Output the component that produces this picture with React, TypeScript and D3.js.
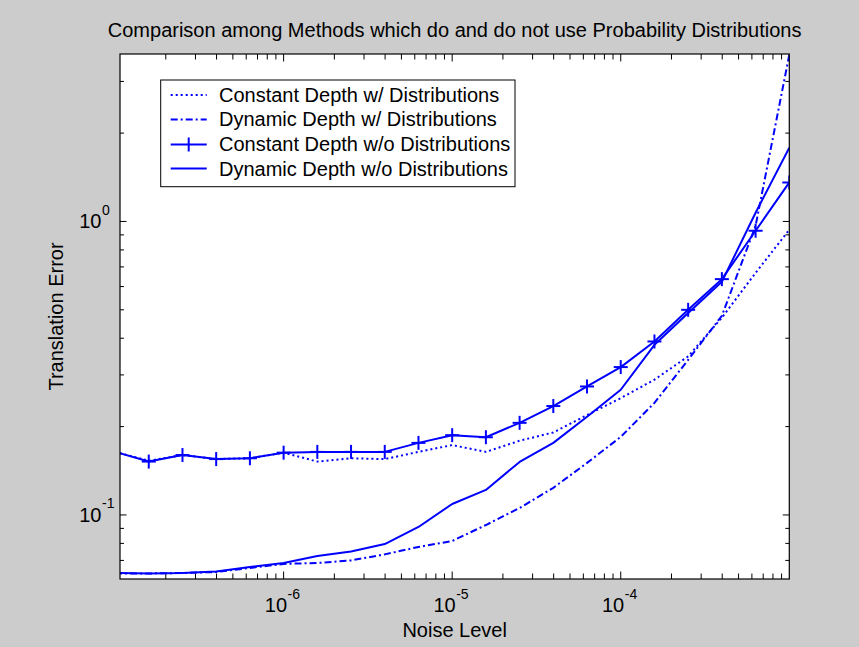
import React from "react";
import * as d3 from "d3";

const TITLE = "Comparison among Methods which do and do not use Probability Distributions";
const X_LABEL = "Noise Level";
const Y_LABEL = "Translation Error";

const NOISE = [
  1e-7, 1.585e-7, 2.512e-7, 3.981e-7, 6.31e-7,
  1e-6, 1.585e-6, 2.512e-6, 3.981e-6, 6.31e-6,
  1e-5, 1.585e-5, 2.512e-5, 3.981e-5, 6.31e-5,
  1e-4, 1.585e-4, 2.512e-4, 3.981e-4, 6.31e-4,
  1e-3,
];

const CONST_WITH_DIST = [0.164, 0.153, 0.160, 0.155, 0.156, 0.163, 0.152, 0.156, 0.155, 0.164, 0.173, 0.164, 0.179, 0.191, 0.219, 0.250, 0.289, 0.347, 0.470, 0.668, 0.937];
const DYN_WITH_DIST = [0.0632, 0.0632, 0.0634, 0.0639, 0.0660, 0.0681, 0.0686, 0.0700, 0.0734, 0.0778, 0.0815, 0.0924, 0.1056, 0.1237, 0.1504, 0.1845, 0.2409, 0.3377, 0.477, 0.967, 3.70];
const CONST_WITHOUT = [0.164, 0.152, 0.160, 0.155, 0.156, 0.163, 0.164, 0.164, 0.164, 0.176, 0.187, 0.184, 0.206, 0.235, 0.274, 0.319, 0.390, 0.500, 0.636, 0.930, 1.358];
const DYN_WITHOUT = [0.0634, 0.0632, 0.0634, 0.0642, 0.0665, 0.0686, 0.0725, 0.0751, 0.0796, 0.0910, 0.109, 0.1217, 0.1516, 0.176, 0.216, 0.267, 0.380, 0.488, 0.623, 1.071, 1.784];

const SERIES_NAMES = [
  "Constant Depth w/ Distributions",
  "Dynamic Depth w/ Distributions",
  "Constant Depth w/o Distributions",
  "Dynamic Depth w/o Distributions",
];

const X_MAJOR = [1e-6, 1e-5, 1e-4];
const X_MAJOR_EXP = ["-6", "-5", "-4"];
const Y_MAJOR = [1e-1, 1];
const Y_MAJOR_EXP = ["-1", "0"];
const X_DOMAIN = [1.07e-7, 1e-3];
const Y_DOMAIN = [0.0605, 3.72];

const W = 859;
const H = 647;
const L = 120, R = 789.3, T = 54, B = 579;
const BLUE = "#0000ff";
const FONT = "'Liberation Sans', Arial, Helvetica, sans-serif";

export default function App() {
  const x = d3.scaleLog().domain(X_DOMAIN).range([L, R]);
  const y = d3.scaleLog().domain(Y_DOMAIN).range([B, T]);

  const xMinor: number[] = [];
  for (let e = -7; e <= -4; e++) {
    for (let m = 2; m <= 9; m++) {
      const v = m * Math.pow(10, e);
      if (v > X_DOMAIN[0] && v < X_DOMAIN[1]) xMinor.push(v);
    }
  }
  const yMinor: number[] = [];
  for (let e = -2; e <= 0; e++) {
    for (let m = 2; m <= 9; m++) {
      const v = m * Math.pow(10, e);
      if (v > Y_DOMAIN[0] && v < Y_DOMAIN[1]) yMinor.push(v);
    }
  }

  const line = (vals: number[]) =>
    d3.line<number>().x((_, i) => x(NOISE[i])).y((d) => y(d))(vals) || "";

  const series = [
    { vals: CONST_WITH_DIST, dash: "2,3", marker: false },
    { vals: DYN_WITH_DIST, dash: "7,3,2,3", marker: false },
    { vals: CONST_WITHOUT, dash: undefined, marker: true },
    { vals: DYN_WITHOUT, dash: undefined, marker: false },
  ];

  const legendX1 = 170.7, legendX2 = 206.7;
  const legendRowsY = [95, 119.5, 144.5, 168.5];
  const legendBase = [101.7, 126.2, 151, 175.7];

  return (
    <svg width={W} height={H} style={{ position: "absolute", left: 0, top: 0 }} fontFamily={FONT}>
      <defs>
        <clipPath id="plotClip">
          <rect x={L} y={T} width={R - L} height={B - T} />
        </clipPath>
      </defs>
      <rect x={0} y={0} width={W} height={H} fill="#cccccc" />
      <rect x={L} y={T} width={R - L} height={B - T} fill="#ffffff" />

      {/* ticks */}
      <g stroke="#000" strokeWidth={1}>
        {X_MAJOR.map((v) => (
          <g key={"xM" + v}>
            <line x1={x(v)} x2={x(v)} y1={B} y2={B - 7.5} />
            <line x1={x(v)} x2={x(v)} y1={T} y2={T + 7.5} />
          </g>
        ))}
        {xMinor.map((v) => (
          <g key={"xm" + v}>
            <line x1={x(v)} x2={x(v)} y1={B} y2={B - 5.5} />
            <line x1={x(v)} x2={x(v)} y1={T} y2={T + 5.5} />
          </g>
        ))}
        {Y_MAJOR.map((v) => (
          <g key={"yM" + v}>
            <line x1={L} x2={L + 6.5} y1={y(v)} y2={y(v)} />
            <line x1={R} x2={R - 6.5} y1={y(v)} y2={y(v)} />
          </g>
        ))}
        {yMinor.map((v) => (
          <g key={"ym" + v}>
            <line x1={L} x2={L + 4} y1={y(v)} y2={y(v)} />
            <line x1={R} x2={R - 4} y1={y(v)} y2={y(v)} />
          </g>
        ))}
      </g>

      {/* series */}
      <g clipPath="url(#plotClip)" fill="none" stroke={BLUE} strokeWidth={2}>
        {series.map((s, i) => (
          <path key={i} d={line(s.vals)} strokeDasharray={s.dash} strokeLinejoin="round" />
        ))}
        {CONST_WITHOUT.map((v, i) =>
          NOISE[i] >= X_DOMAIN[0] ? (
            <g key={"mk" + i}>
              <line x1={x(NOISE[i]) - 7} x2={x(NOISE[i]) + 7} y1={y(v)} y2={y(v)} />
              <line x1={x(NOISE[i])} x2={x(NOISE[i])} y1={y(v) - 7} y2={y(v) + 7} />
            </g>
          ) : null
        )}
      </g>

      <rect x={L} y={T} width={R - L} height={B - T} fill="none" stroke="#000" strokeWidth={1.2} />

      {/* tick labels */}
      <g fill="#000">
        {X_MAJOR.map((v, i) => (
          <g key={"xl" + v}>
            <text x={x(v) + 3.5} y={611.7} fontSize={20} textAnchor="end">10</text>
            <text x={x(v) + 4} y={599.3} fontSize={14} textAnchor="start">{X_MAJOR_EXP[i]}</text>
          </g>
        ))}
        {Y_MAJOR.map((v, i) => (
          <g key={"yl" + v}>
            <text x={101.5} y={y(v) + 6.8} fontSize={20} textAnchor="end">10</text>
            <text x={102} y={y(v) - 6.5} fontSize={14} textAnchor="start">{Y_MAJOR_EXP[i]}</text>
          </g>
        ))}
      </g>

      <text x={(L + R) / 2} y={37.3} fontSize={20} textAnchor="middle" fill="#000">{TITLE}</text>
      <text x={(L + R) / 2} y={637.3} fontSize={20} textAnchor="middle" fill="#000">{X_LABEL}</text>
      <text transform={`translate(63,${(T + B) / 2}) rotate(-90)`} fontSize={20} textAnchor="middle" fill="#000">{Y_LABEL}</text>

      {/* legend */}
      <rect x={160.7} y={80} width={354.3} height={106.7} fill="#fff" stroke="#000" strokeWidth={1} />
      {series.map((s, i) => (
        <g key={"lg" + i}>
          <line x1={legendX1} x2={legendX2} y1={legendRowsY[i]} y2={legendRowsY[i]} stroke={BLUE} strokeWidth={2} strokeDasharray={s.dash} />
          {s.marker && (
            <line x1={(legendX1 + legendX2) / 2} x2={(legendX1 + legendX2) / 2} y1={legendRowsY[i] - 7} y2={legendRowsY[i] + 7} stroke={BLUE} strokeWidth={2} />
          )}
          <text x={219} y={legendBase[i]} fontSize={20} fill="#000">{SERIES_NAMES[i]}</text>
        </g>
      ))}
    </svg>
  );
}
